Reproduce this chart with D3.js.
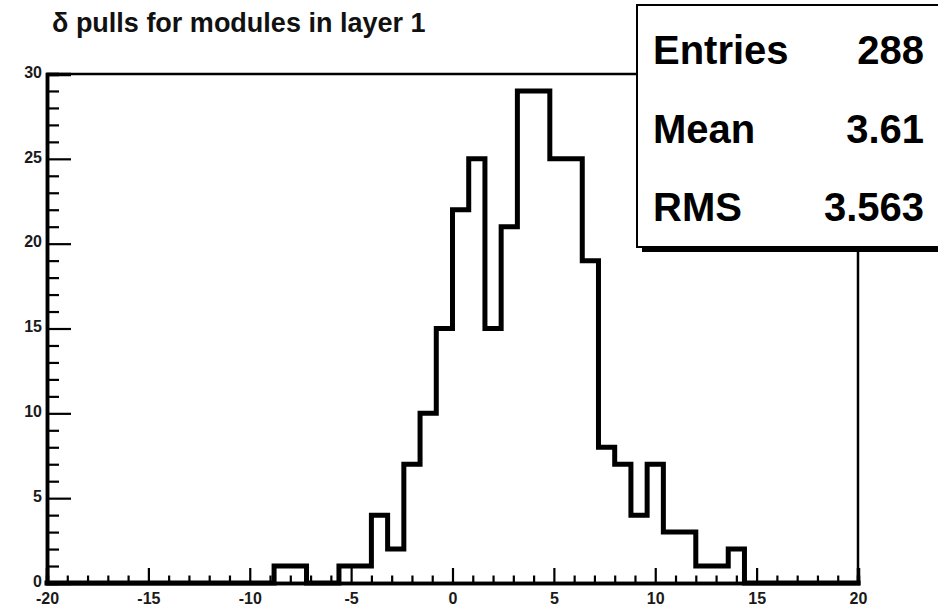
<!DOCTYPE html>
<html>
<head>
<meta charset="utf-8">
<script src="https://cdn.jsdelivr.net/npm/d3@7"></script>
<style>
  body { margin: 0; background: #fff; }
  svg { display: block; }
  text { font-family: "Liberation Sans", Arial, Helvetica, sans-serif; font-weight: bold; }
</style>
</head>
<body>
<svg id="drawing_region"></svg>
<script>
// histogram: 50 bins from -20 to 20
const xMin = -20;
const xMax = 20;
const counts = [
    0, 0, 0, 0, 0, 0, 0, 0, 0, 0,
    0, 0, 0, 0, 1, 1, 0, 0, 1, 1,
    4, 2, 7, 10, 15, 22, 25, 15, 21, 29,
    29, 25, 25, 19, 8, 7, 4, 7, 3, 3,
    1, 1, 2, 0, 0, 0, 0, 0, 0, 0
];
const xTicks = [-20, -15, -10, -5, 0, 5, 10, 15, 20];
const yTicks = [0, 5, 10, 15, 20, 25, 30];
const statLabels = ["Entries", "Mean", "RMS"];
const statValues = ["288", "3.61", "3.563"];
const title = "δ pulls for modules in layer 1";

const width = 938, height = 610;
const frame = { left: 47, right: 858, top: 74, bottom: 583 };

const svg = d3.select('#drawing_region')
    .attr('width', width)
    .attr('height', height);

const xscale = d3.scaleLinear()
    .domain([xMin, xMax])
    .range([frame.left, frame.right]);

const yscale = d3.scaleLinear()
    .domain([0, 30])
    .range([frame.bottom, frame.top]);

// frame (top and right sides)
svg.append('path')
    .attr('d', `M${frame.left},${frame.top} H${frame.right} V${frame.bottom}`)
    .attr('fill', 'none')
    .attr('stroke', 'black')
    .attr('stroke-width', 2.5);

// histogram outline
const binWidth = (xMax - xMin) / counts.length;
let d = `M${xscale(xMin)},${yscale(0)}`;
counts.forEach((c, i) => {
    const x0 = xscale(xMin + i * binWidth);
    const x1 = xscale(xMin + (i + 1) * binWidth);
    d += ` L${x0},${yscale(c)} L${x1},${yscale(c)}`;
});
d += ` L${xscale(xMax)},${yscale(0)}`;

svg.append('path')
    .attr('d', d)
    .attr('fill', 'none')
    .attr('stroke', 'black')
    .attr('stroke-width', 5)
    .attr('stroke-linejoin', 'miter')
    .attr('stroke-linecap', 'square');

// minor ticks every unit
const xMinor = d3.range(xMin, xMax + 1).filter(v => !xTicks.includes(v));
const yMinor = d3.range(0, 31).filter(v => !yTicks.includes(v));
const fmt = v => String(v); // plain hyphen minus like the original

const xaxis_group = svg.append('g')
    .attr('transform', `translate(0, ${frame.bottom})`);
xaxis_group.append('g')
    .call(d3.axisBottom(xscale).tickValues(xMinor).tickSize(-7.5).tickFormat(''));
xaxis_group.append('g')
    .call(d3.axisBottom(xscale).tickValues(xTicks).tickSize(-15).tickPadding(10).tickFormat(fmt));

const yaxis_group = svg.append('g')
    .attr('transform', `translate(${frame.left}, 0)`);
yaxis_group.append('g')
    .call(d3.axisLeft(yscale).tickValues(yMinor).tickSize(-12).tickFormat(''));
yaxis_group.append('g')
    .call(d3.axisLeft(yscale).tickValues(yTicks).tickSize(-24).tickPadding(5).tickFormat(fmt));

svg.selectAll('.domain')
    .attr('stroke', 'black')
    .attr('stroke-width', 3.5);
svg.selectAll('.tick line')
    .attr('stroke', 'black')
    .attr('stroke-width', 2.2);
svg.selectAll('.tick text')
    .attr('fill', '#1a1a1a')
    .attr('font-size', '16px')
    .attr('font-family', '"Liberation Sans", Arial, sans-serif')
    .attr('font-weight', 'bold');
yaxis_group.selectAll('.tick text').attr('dy', '0.2em');

// title
svg.append('text')
    .attr('x', 52)
    .attr('y', 32)
    .attr('font-size', '27px')
    .attr('fill', '#111')
    .text(title);

// stats box with shadow
const box = { x: 637, y: 5, w: 320, h: 242 };
svg.append('rect')
    .attr('x', box.x + 5)
    .attr('y', box.y + 5)
    .attr('width', box.w)
    .attr('height', box.h)
    .attr('fill', 'black');
svg.append('rect')
    .attr('x', box.x)
    .attr('y', box.y)
    .attr('width', box.w)
    .attr('height', box.h)
    .attr('fill', 'white')
    .attr('stroke', 'black')
    .attr('stroke-width', 2);

const rowY = d3.scalePoint()
    .domain(statLabels)
    .range([64, 221]);

svg.selectAll('.stat-label')
    .data(statLabels)
    .join('text')
    .attr('class', 'stat-label')
    .attr('x', 653)
    .attr('y', d => rowY(d))
    .attr('font-size', '40px')
    .attr('fill', 'black')
    .text(d => d);

svg.selectAll('.stat-value')
    .data(statValues)
    .join('text')
    .attr('class', 'stat-value')
    .attr('x', 924)
    .attr('y', (d, i) => rowY(statLabels[i]))
    .attr('text-anchor', 'end')
    .attr('font-size', '40px')
    .attr('fill', 'black')
    .text(d => d);
</script>
</body>
</html>
